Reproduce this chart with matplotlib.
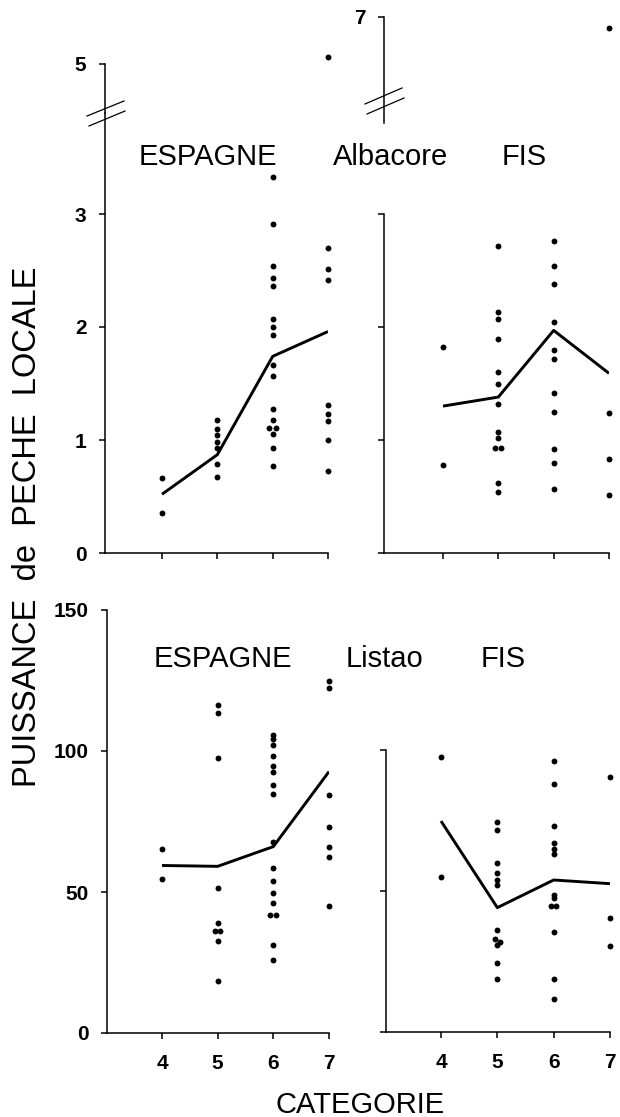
"""Puissance de peche locale par categorie : Albacore et Listao, ESPAGNE / FIS."""

import matplotlib

matplotlib.use("Agg")
import matplotlib.pyplot as plt
from matplotlib.lines import Line2D

plt.rcParams["font.family"] = ["Liberation Sans", "DejaVu Sans"]

# --- donnees --------------------------------------------------------------
CATEGORIES = [4, 5, 6, 7]

# Albacore, ESPAGNE (panneau haut gauche)
ALB_ESP_MEAN = [0.52, 0.87, 1.74, 1.96]
ALB_ESP_X = [4, 4,
             5, 5, 5, 5, 5, 5, 5,
             6, 6, 6, 6, 6, 6, 6, 6, 6, 6, 6, 6, 5.94, 6.06, 6, 6, 6,
             7, 7, 7, 7, 7, 7, 7, 7]
ALB_ESP_Y = [0.66, 0.35,
             1.18, 1.10, 1.04, 0.98, 0.93, 0.79, 0.67,
             3.33, 2.91, 2.54, 2.43, 2.36, 2.07, 2.00, 1.93, 1.66, 1.57, 1.27, 1.18,
             1.11, 1.11, 1.05, 0.93, 0.77,
             2.70, 2.51, 2.42, 1.31, 1.23, 1.17, 1.00, 0.73]
ALB_ESP_HIGH = 5.06  # point au-dessus de la coupure, categorie 7

# Albacore, FIS (panneau haut droit)
ALB_FIS_MEAN = [1.30, 1.38, 1.97, 1.59]
ALB_FIS_X = [4, 4,
             5, 5, 5, 5, 5, 5, 5, 5, 5, 4.94, 5.05, 5, 5,
             6, 6, 6, 6, 6, 6, 6, 6, 6, 6, 6,
             7, 7, 7]
ALB_FIS_Y = [1.82, 0.78,
             2.72, 2.13, 2.07, 1.89, 1.60, 1.50, 1.32, 1.07, 1.02, 0.93, 0.93, 0.62, 0.54,
             2.76, 2.54, 2.38, 2.04, 1.80, 1.72, 1.42, 1.25, 0.92, 0.80, 0.57,
             1.24, 0.83, 0.51]
ALB_FIS_HIGH = 6.90

# Listao, ESPAGNE (panneau bas gauche)
LIS_ESP_MEAN = [59.4, 59.1, 66.1, 92.7]
LIS_ESP_X = [4, 4,
             5, 5, 5, 5, 5, 4.95, 5.05, 5, 5,
             6, 6, 6, 6, 6, 6, 6, 6, 6, 6, 6, 6, 6, 5.94, 6.05, 6, 6,
             7, 7, 7, 7, 7, 7, 7]
LIS_ESP_Y = [65.3, 54.6,
             116.3, 113.6, 97.6, 51.3, 38.9, 36.0, 36.0, 32.6, 18.3,
             105.8, 104.2, 102.2, 98.3, 94.8, 92.4, 87.9, 84.6, 67.9, 58.5, 53.9,
             49.6, 46.1, 41.9, 41.9, 31.1, 25.9,
             124.7, 122.5, 84.3, 72.9, 65.9, 62.4, 45.0]

# Listao, FIS (panneau bas droit)
LIS_FIS_MEAN = [74.8, 44.1, 53.9, 52.6]
LIS_FIS_X = [4, 4,
             5, 5, 5, 5, 5, 5, 5, 4.95, 5.05, 5, 5, 5,
             6, 6, 6, 6, 6, 6, 6, 6, 5.95, 6.05, 6, 6, 6,
             7, 7, 7]
LIS_FIS_Y = [97.6, 54.8,
             74.4, 71.6, 59.8, 56.5, 53.9, 52.0, 36.3, 33.0, 32.0, 30.8, 24.5, 18.9,
             96.1, 88.1, 73.1, 67.0, 65.0, 63.1, 48.7, 47.4, 44.8, 44.8, 35.6, 18.7, 11.8,
             90.5, 40.5, 30.4]

# --- mise en page (pixels de l'image 620 x 1117) ---------------------------
W, H = 620, 1117
TOP_UNIT = 113.0  # pixels par unite dans les panneaux Albacore
TICK_FS = 15
WORD_FS = 21
DOT_S = 18

fig = plt.figure(figsize=(W / 100, H / 100), dpi=100, facecolor="white")


def rect(x0, y0, x1, y1):
    return [x0 / W, 1 - y1 / H, (x1 - x0) / W, (y1 - y0) / H]


def fig_xy(x, y):
    return x / W, 1 - y / H


def style(ax, xlim, yticks, ylabels, xlabels):
    ax.set_xlim(*xlim)
    for side in ("top", "right"):
        ax.spines[side].set_visible(False)
    for side in ("left", "bottom"):
        ax.spines[side].set_linewidth(1.1)
    ax.set_xticks(CATEGORIES, labels=[str(c) for c in CATEGORIES] if xlabels else [])
    ax.set_yticks(yticks, labels=[str(t) for t in yticks] if ylabels else [])
    ax.tick_params(axis="both", direction="out", length=4.3, width=1.1,
                   labelsize=TICK_FS)
    ax.tick_params(axis="y", pad=9)
    ax.tick_params(axis="x", pad=11)
    for lab in ax.get_xticklabels() + ax.get_yticklabels():
        lab.set_fontweight("bold")


def style_upper(ax, xlim, ylim, tick, label):
    ax.set_xlim(*xlim)
    ax.set_ylim(*ylim)
    for side in ("top", "right", "bottom"):
        ax.spines[side].set_visible(False)
    ax.spines["left"].set_linewidth(1.1)
    ax.set_xticks([])
    ax.set_yticks([tick], labels=[label])
    ax.tick_params(axis="y", direction="out", length=4.3, width=1.1,
                   labelsize=TICK_FS, pad=9)
    for lab in ax.get_yticklabels():
        lab.set_fontweight("bold")
    ax.patch.set_visible(False)


def draw(ax, xs, ys, mean):
    ax.plot(CATEGORIES, mean, color="black", lw=2.1, solid_capstyle="butt",
            zorder=2)
    ax.scatter(xs, ys, s=DOT_S, color="black", linewidths=0, zorder=3,
               clip_on=False)


def slash(x0, y0, x1, y1):
    fig.add_artist(Line2D(*zip(fig_xy(x0, y0), fig_xy(x1, y1)),
                          transform=fig.transFigure, color="black", lw=0.9))


# Albacore ESPAGNE
xl_tl = (4 - 57 / 55.33, 7)
ax_tl = fig.add_axes(rect(105, 113, 328, 553))
style(ax_tl, xl_tl, [0, 1, 2, 3], True, False)
ax_tl.set_ylim(0, (553 - 113) / TOP_UNIT)
draw(ax_tl, ALB_ESP_X, ALB_ESP_Y, ALB_ESP_MEAN)

ax_tl_up = fig.add_axes(rect(105, 63.5, 328, 113))
style_upper(ax_tl_up, xl_tl, (5 - (113 - 63.5) / TOP_UNIT, 5), 5, "5")
ax_tl_up.scatter([7], [ALB_ESP_HIGH], s=DOT_S, color="black", linewidths=0,
                 clip_on=False)
slash(87, 116, 124, 101)
slash(89, 126, 125, 111)

# Albacore FIS
xl_tr = (4 - 59 / 55.33, 7)
ax_tr = fig.add_axes(rect(384, 214, 609, 553))
style(ax_tr, xl_tr, [0, 1, 2, 3], False, False)
ax_tr.set_ylim(0, 3)
draw(ax_tr, ALB_FIS_X, ALB_FIS_Y, ALB_FIS_MEAN)

ax_tr_up = fig.add_axes(rect(384, 16.7, 609, 123))
style_upper(ax_tr_up, xl_tr, (7 - (123 - 16.7) / TOP_UNIT, 7), 7, "7")
ax_tr_up.scatter([7], [ALB_FIS_HIGH], s=DOT_S, color="black", linewidths=0,
                 clip_on=False)
slash(365, 104, 402, 88)
slash(367, 114, 404, 98)

# Listao ESPAGNE
ax_bl = fig.add_axes(rect(107, 610, 329, 1033))
style(ax_bl, (4 - 55 / 55.67, 7), [0, 50, 100, 150], True, True)
ax_bl.set_ylim(0, 150)
draw(ax_bl, LIS_ESP_X, LIS_ESP_Y, LIS_ESP_MEAN)

# Listao FIS
ax_br = fig.add_axes(rect(386, 750, 610, 1032))
style(ax_br, (4 - 55 / 56.3, 7), [0, 50, 100], False, True)
ax_br.set_ylim(0, 100)
draw(ax_br, LIS_FIS_X, LIS_FIS_Y, LIS_FIS_MEAN)

# --- textes ---------------------------------------------------------------
for word, x, y in (("ESPAGNE", 207.5, 165), ("Albacore", 391, 165),
                   ("FIS", 524, 165), ("ESPAGNE", 222.5, 667),
                   ("Listao", 384, 667), ("FIS", 503, 667)):
    fig.text(*fig_xy(x, y), word, ha="center", va="baseline", fontsize=WORD_FS)

fig.text(*fig_xy(360, 1113), "CATEGORIE", ha="center", va="baseline",
         fontsize=WORD_FS)
fig.text(*fig_xy(28, 527), "PUISSANCE  de  PECHE  LOCALE", rotation=90,
         ha="center", va="center", fontsize=23.5)

fig.savefig("out.png", dpi=100, facecolor="white")
